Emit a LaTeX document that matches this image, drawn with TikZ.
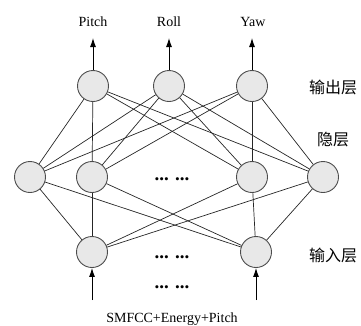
\documentclass[tikz,border=0pt]{standalone}
\usepackage{fontspec}
\setmainfont{Liberation Serif}
\newfontfamily\cjk{Noto Sans CJK SC}
\usetikzlibrary{arrows.meta}
\begin{document}
\begin{tikzpicture}[x=1pt,y=-1pt,
  neuron/.style={circle,draw=black!70,fill=black!9,line width=0.9pt,minimum size=31pt,inner sep=0pt},
  link/.style={draw=black!85,line width=0.7pt},
  io/.style={draw=black,line width=0.9pt,-{Latex[length=9pt,width=6pt]}},
  lbl/.style={font=\fontsize{14}{16}\selectfont,inner sep=0pt},
  layer/.style={font=\cjk\fontsize{16}{18}\selectfont,inner sep=0pt},
  dots/.style={font=\fontsize{19}{20}\selectfont\bfseries,inner sep=0pt}]
\useasboundingbox (0,0) rectangle (361,325);
% output layer
\node[neuron] (o1) at (93,86) {};
\node[neuron] (o2) at (169,86) {};
\node[neuron] (o3) at (252,86) {};
% hidden layer
\node[neuron] (h1) at (30,177) {};
\node[neuron] (h2) at (92,177) {};
\node[neuron] (h3) at (252,177) {};
\node[neuron] (h4) at (323,177) {};
% input layer
\node[neuron] (i1) at (92,252) {};
\node[neuron] (i2) at (256,252) {};
% full connections
\foreach \o in {o1,o2,o3}
  \foreach \h in {h1,h2,h3,h4}
    \draw[link] (\o) -- (\h);
\foreach \i in {i1,i2}
  \foreach \h in {h1,h2,h3,h4}
    \draw[link] (\i) -- (\h);
% output arrows and labels
\coordinate (t1) at (93,38);
\coordinate (t2) at (169,38);
\coordinate (t3) at (252,38);
\draw[io] (o1) -- (t1);
\draw[io] (o2) -- (t2);
\draw[io] (o3) -- (t3);
\node[lbl] (p) at (93,22) {Pitch};
\node[lbl] (r) at (169,22) {Roll};
\node[lbl] (y) at (253,22) {Yaw};
% input arrows and label
\coordinate (b1) at (92,300);
\coordinate (b2) at (256,300);
\draw[io] (b1) -- (i1);
\draw[io] (b2) -- (i2);
\node[lbl] (in) at (172,319) {SMFCC+Energy+Pitch};
% ellipses
\node[dots,anchor=base] (d1) at (172,180) {...\,\,...};
\node[dots,anchor=base] (d2) at (172,258) {...\,\,...};
\node[dots,anchor=base] (d3) at (172,288) {...\,\,...};
% layer names
\node[layer] (lo) at (333,87) {输出层};
\node[layer] (lh) at (333,140) {隐层};
\node[layer] (li) at (333,255) {输入层};
\end{tikzpicture}
\end{document}
